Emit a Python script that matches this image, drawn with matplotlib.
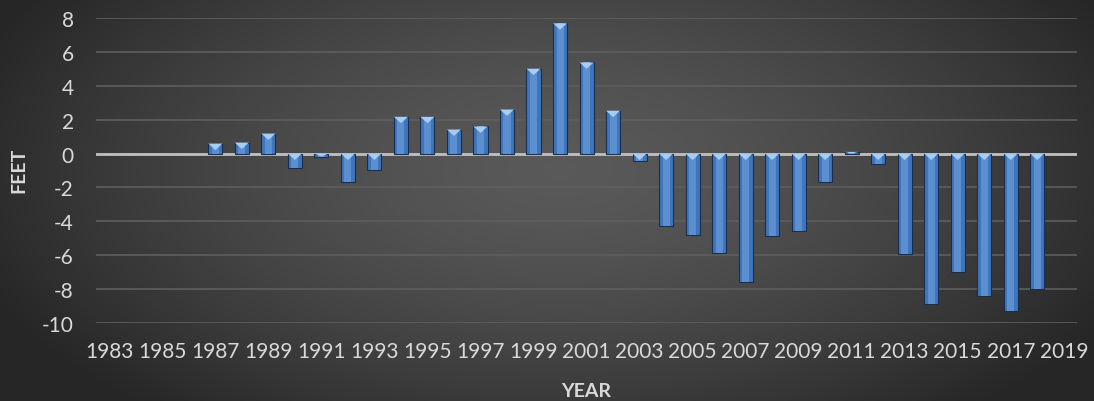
import numpy as np
import matplotlib.pyplot as plt
from matplotlib.patches import Polygon

years = list(range(1983, 2020))
feet = [np.nan, np.nan, np.nan, np.nan, 0.59, 0.65, 1.18, -0.85, -0.18, -1.68,
        -0.99, 2.17, 2.17, 1.42, 1.6, 2.6, 5.01, 7.69, 5.38, 2.53,
        -0.41, -4.28, -4.81, -5.84, -7.6, -4.87, -4.56, -1.68, 0.1, -0.59,
        -5.94, -8.9, -7.0, -8.42, -9.29, -7.99, np.nan]
tick_years = years[::2]

plt.rcParams['font.family'] = ['Lato', 'DejaVu Sans']
plt.rcParams['axes.unicode_minus'] = False
txt = '#d9d9d9'

fig = plt.figure(figsize=(10.94, 4.02), dpi=100)

# radial background
bg = fig.add_axes([0, 0, 1, 1], zorder=0)
yy, xx = np.mgrid[0:402, 0:1094]
r = np.sqrt(((xx - 560) / 620.0) ** 2 + ((yy - 170) / 320.0) ** 2)
shade = 0.35 - 0.20 * np.clip(r, 0, 1) ** 1.5
bg.imshow(np.dstack([shade] * 3), aspect='auto', extent=[0, 1, 0, 1])
bg.axis('off')

ax = fig.add_axes([0.0878, 0.194, 0.8967, 0.7587], zorder=1)
ax.patch.set_alpha(0)

x = np.arange(len(years))
w = 0.53
vals = np.array(feet, dtype=float)
ok = ~np.isnan(vals)
ax.bar(x[ok], vals[ok], width=w, color='#3f76bb', edgecolor='#1a2f4f',
       linewidth=0.8, zorder=3)
# lighter centre strip for bevel look
ax.bar(x[ok], vals[ok], width=w * 0.5, color='#5b8fd0', linewidth=0, zorder=3.5)

# bevel triangle at top of each bar
for xi, v in zip(x[ok], vals[ok]):
    top = max(v, 0)
    h = min(0.38, abs(v))
    tri = Polygon([[xi - w / 2, top], [xi + w / 2, top], [xi, top - h]],
                  closed=True, color='#a8cdf4', zorder=4, linewidth=0)
    ax.add_patch(tri)

ax.set_xlim(-0.5, len(years) - 0.5)
ax.set_ylim(-10, 8)
ax.set_yticks(range(-10, 9, 2))
ax.set_xticks([years.index(t) for t in tick_years])
ax.set_xticklabels([str(t) for t in tick_years])
ax.grid(axis='y', color='#5e5e5e', linewidth=1.2, zorder=1)
ax.axhline(0, color='#c0c0c0', linewidth=2, zorder=2)
for s in ax.spines.values():
    s.set_visible(False)
ax.tick_params(length=0, colors=txt, labelsize=15)
ax.tick_params(axis='y', pad=16)
ax.tick_params(axis='x', pad=13)

fig.text(19 / 1094, 1 - 170 / 402, 'FEET', color=txt, fontsize=14,
         fontweight='bold', rotation=90, ha='center', va='center')
fig.text(586 / 1094, 1 - 392 / 402, 'YEAR', color=txt, fontsize=14,
         fontweight='bold', ha='center', va='center')

fig.savefig('out.png', dpi=100)
